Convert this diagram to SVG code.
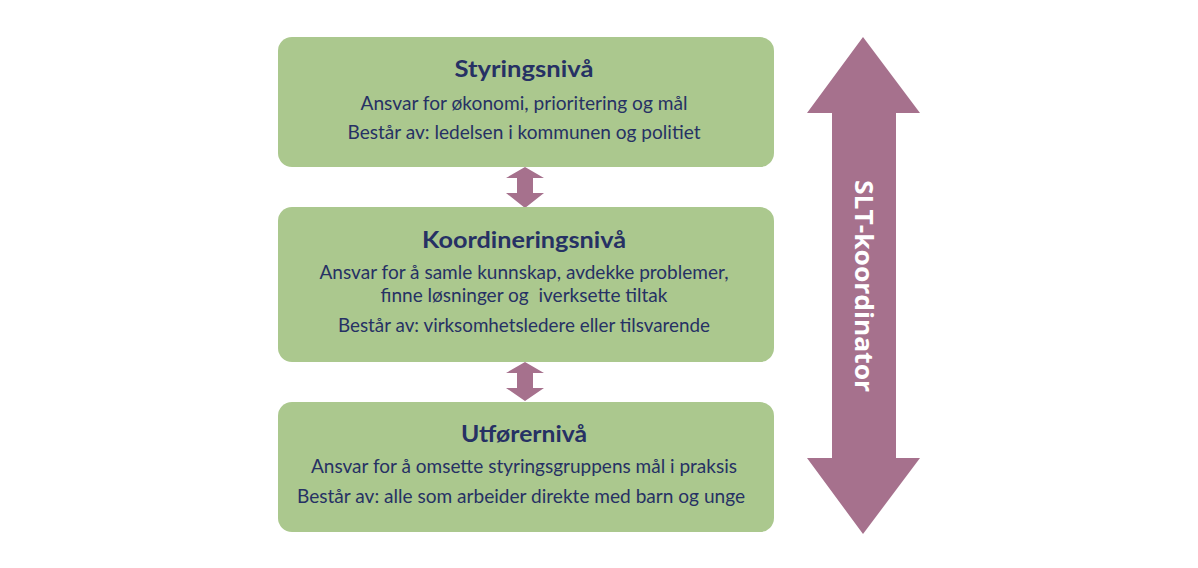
<svg xmlns="http://www.w3.org/2000/svg" width="1198" height="568" viewBox="0 0 1198 568">
<style>
.box{fill:#abc88e;}
.arr{fill:#a6718d;}
.t{font-family:Lato,"Open Sans","Liberation Sans",sans-serif;fill:#263164;text-anchor:middle;}
.h{font-size:22px;font-weight:bold;}
.b{font-size:19px;}
.w{font-family:"Open Sans",Lato,"Liberation Sans",sans-serif;font-size:25px;font-weight:bold;fill:#ffffff;text-anchor:middle;}
</style>
<rect width="1198" height="568" fill="#ffffff"/>
<g id="connectors">
<path class="arr" d="M525,167 L544,178 L533,178 L533,193 L544,193 L525,208 L506,193 L517,193 L517,178 L506,178 Z"/>
<path class="arr" d="M525,362 L544,373 L533,373 L533,388 L544,388 L525,401 L506,388 L517,388 L517,373 L506,373 Z"/>
</g>
<g id="slt-koordinator">
<path class="arr" d="M863,37 L920,113 L896,113 L896,458 L920,458 L863,534 L807,458 L832,458 L832,113 L807,113 Z"/>
<text class="w" transform="translate(855,286) rotate(90)" textLength="212" lengthAdjust="spacingAndGlyphs">SLT-koordinator</text>
</g>
<g id="styringsniva">
<rect class="box" x="278" y="37" width="496" height="130" rx="14"/>
<text class="t h" x="524" y="77" textLength="139" lengthAdjust="spacingAndGlyphs">Styringsnivå</text>
<text class="t b" x="524" y="110" textLength="327" lengthAdjust="spacingAndGlyphs">Ansvar for økonomi, prioritering og mål</text>
<text class="t b" x="524" y="139" textLength="353" lengthAdjust="spacingAndGlyphs">Består av: ledelsen i kommunen og politiet</text>
</g>
<g id="koordineringsniva">
<rect class="box" x="278" y="207" width="496" height="155" rx="14"/>
<text class="t h" x="524" y="248" textLength="204" lengthAdjust="spacingAndGlyphs">Koordineringsnivå</text>
<text class="t b" x="524" y="279" textLength="409" lengthAdjust="spacingAndGlyphs">Ansvar for å samle kunnskap, avdekke problemer,</text>
<text class="t b" x="524" y="302" textLength="287" lengthAdjust="spacingAndGlyphs" xml:space="preserve">finne løsninger og  iverksette tiltak</text>
<text class="t b" x="524" y="332" textLength="372" lengthAdjust="spacingAndGlyphs">Består av: virksomhetsledere eller tilsvarende</text>
</g>
<g id="utforerniva">
<rect class="box" x="278" y="402" width="496" height="130" rx="14"/>
<text class="t h" x="524" y="442" textLength="126" lengthAdjust="spacingAndGlyphs">Utførernivå</text>
<text class="t b" x="524" y="473" textLength="426" lengthAdjust="spacingAndGlyphs">Ansvar for å omsette styringsgruppens mål i praksis</text>
<text class="t b" x="521" y="503" textLength="448" lengthAdjust="spacingAndGlyphs">Består av: alle som arbeider direkte med barn og unge</text>
</g>
</svg>
